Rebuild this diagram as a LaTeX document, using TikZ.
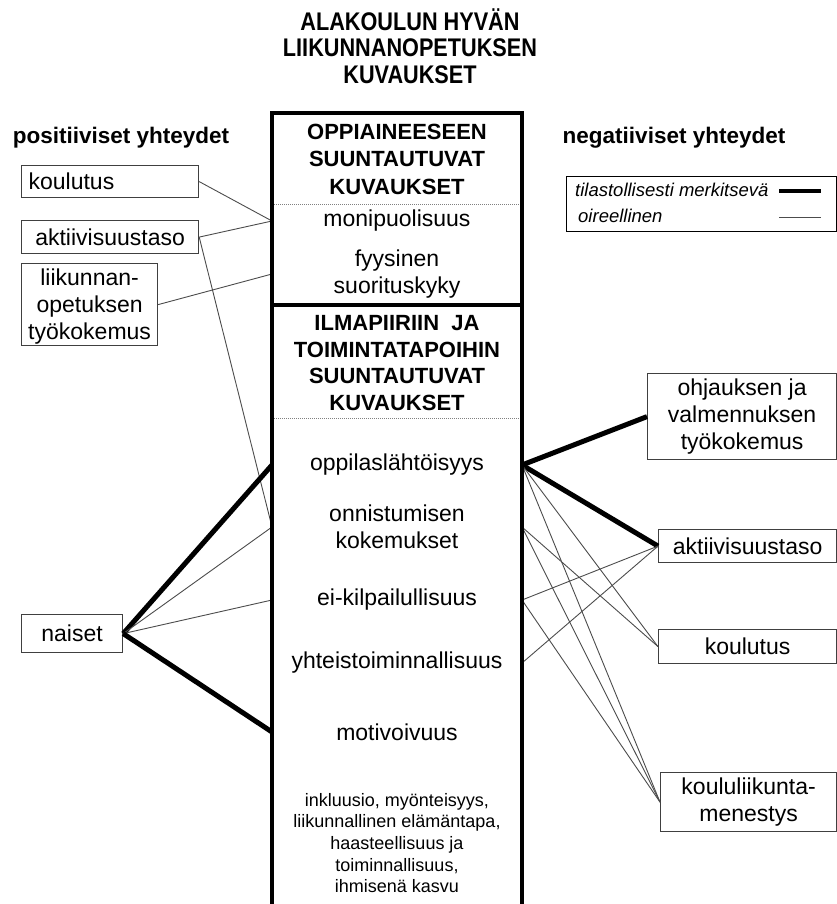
\documentclass[tikz,border=0pt]{standalone}
\usepackage{fontspec}
\setmainfont{Liberation Sans}
\newfontfamily\narrowfont[FakeStretch=0.85]{Liberation Sans}
\begin{document}
\begin{tikzpicture}[x=1pt,y=-1pt,
	hd/.style={font=\fontsize{22}{27.5}\selectfont\bfseries,align=center,inner sep=0},
	it/.style={font=\fontsize{23}{27}\selectfont,align=center,inner sep=0},
	sm/.style={font=\fontsize{18}{21.7}\selectfont,align=center,inner sep=0},
	bx/.style={draw=black!75,line width=1.2pt,anchor=north west,font=\fontsize{23}{27}\selectfont,align=center,inner sep=0},
	leg/.style={font=\fontsize{18.5}{20}\selectfont\itshape,anchor=west,inner sep=0},
	strong/.style={line width=5pt},
	weak/.style={line width=0.9pt,black!70},
	frame/.style={line width=3.5pt}]
	\useasboundingbox (0,0) rectangle (837,904);
	% otsikot
	\node[font=\narrowfont\bfseries\fontsize{25.5}{26.5}\selectfont,align=center] (title) at (410,46) {ALAKOULUN HYVÄN\\LIIKUNNANOPETUKSEN\\KUVAUKSET};
	\node[hd,font=\fontsize{22.5}{27}\selectfont\bfseries] (pos) at (121,138) {positiiviset yhteydet};
	\node[hd,font=\fontsize{22.5}{27}\selectfont\bfseries] (neg) at (674,138) {negatiiviset yhteydet};
	% keskilaatikon sisalto
	\coordinate (mL) at (272,0);
	\coordinate (mR) at (522,0);
	\node[hd] (hd1) at (397,159) {OPPIAINEESEEN\\SUUNTAUTUVAT\\KUVAUKSET};
	\node[it] (moni) at (397,221) {monipuolisuus};
	\node[it] (fyys) at (397,274) {fyysinen\\suorituskyky};
	\node[hd,font=\fontsize{22}{26.7}\selectfont\bfseries] (hd2) at (397,363) {ILMAPIIRIIN\ \ JA\\TOIMINTATAPOIHIN\\SUUNTAUTUVAT\\KUVAUKSET};
	\node[it] (oppi) at (397,465) {oppilaslähtöisyys};
	\node[it] (onni) at (397,527) {onnistumisen\\kokemukset};
	\node[it] (eikil) at (397,600) {ei-kilpailullisuus};
	\node[it] (yht) at (397,663) {yhteistoiminnallisuus};
	\node[it] (moti) at (397,732) {motivoivuus};
	\node[sm] (muut) at (397,843) {inkluusio, myönteisyys,\\liikunnallinen elämäntapa,\\haasteellisuus ja\\toiminnallisuus,\\ihmisenä kasvu};
	% vasemmat laatikot
	\node[bx,minimum width=177,minimum height=32,text width=163,align=left] (kouL) at (21,165) {koulutus};
	\node[bx,minimum width=177,minimum height=33] (aktL) at (21,220) {aktiivisuustaso};
	\node[bx,minimum width=136,minimum height=82,text depth=-6pt] (liiL) at (21,263) {liikunnan-\\opetuksen\\työkokemus};
	\node[bx,minimum width=101,minimum height=38] (naiL) at (21,614) {naiset};
	% oikeat laatikot
	\node[bx,minimum width=189,minimum height=86] (ohjR) at (647,373) {ohjauksen ja\\valmennuksen\\työkokemus};
	\node[bx,minimum width=178,minimum height=33] (aktR) at (658,529) {aktiivisuustaso};
	\node[bx,minimum width=178,minimum height=34] (kouR) at (658,629) {koulutus};
	\node[bx,minimum width=176,minimum height=59] (kolR) at (660,772) {koululiikunta-\\menestys};
	% yhteydet
	\draw[weak] (kouL.east) -- (moni -| mL);
	\draw[weak] (aktL.east) -- (moni -| mL);
	\draw[weak] (aktL.east) -- (onni -| mL);
	\draw[weak] (liiL.east) -- (fyys -| mL);
	\draw[strong] (naiL.east) -- (oppi -| mL);
	\draw[weak] (naiL.east) -- (onni -| mL);
	\draw[weak] (naiL.east) -- (eikil -| mL);
	\draw[strong] (naiL.east) -- (moti -| mL);
	\draw[strong] (oppi -| mR) -- (ohjR.west);
	\draw[strong] (oppi -| mR) -- (aktR.west);
	\foreach \a/\b in {oppi/kouR,oppi/kolR,onni/kouR,onni/kolR,eikil/aktR,eikil/kolR,yht/aktR}
	\draw[weak] (\a -| mR) -- (\b.west);
	% keskilaatikko
	\draw[black!50,line width=0.8pt,dash pattern=on 1pt off 1pt] (272,204) -- (522,204) (272,418) -- (522,418);
	\draw[frame] (272,113) rectangle (522,305);
	\draw[frame] (272,904) -- (272,305) -- (522,305) -- (522,904);
	% selite
	\node[draw,line width=1.3pt,minimum width=270,minimum height=55,anchor=north west] (legbox) at (566,176) {};
	\node[leg] (sig) at (575,190) {tilastollisesti merkitsevä};
	\node[leg] (oir) at (578,216) {oireellinen};
	\coordinate (sigA) at (779,191);
	\coordinate (sigB) at (821,191);
	\coordinate (oirA) at (779,217);
	\coordinate (oirB) at (821,217);
	\draw[line width=4.5pt] (sigA) -- (sigB);
	\draw[weak] (oirA) -- (oirB);
\end{tikzpicture}
\end{document}
